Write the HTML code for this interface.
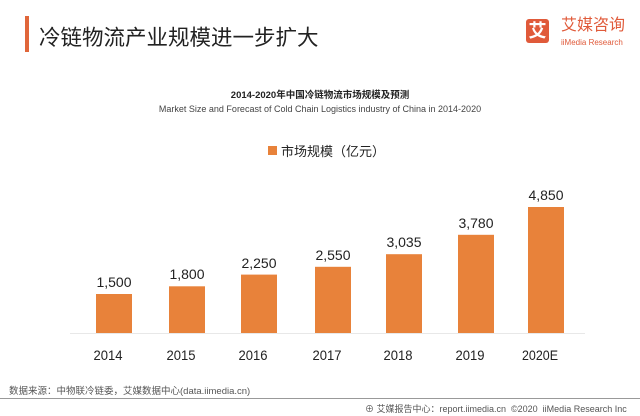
<!DOCTYPE html>
<html><head><meta charset="utf-8"><style>
body{margin:0;width:640px;height:416px;background:#fff;position:relative;overflow:hidden;font-family:"Liberation Sans","Noto Sans CJK SC",sans-serif;color:#222}
.a{position:absolute;white-space:nowrap}
</style></head><body>
<div class="a" style="left:25px;top:16px;width:4px;height:36px;background:#e0663a"></div>
<div class="a" style="left:39px;top:21px;font-size:21.5px;color:#222">冷链物流产业规模进一步扩大</div>
<div class="a" style="left:526px;top:19px;width:23px;height:24px;background:#e05a3a;border-radius:3px;color:#fff;font-size:18px;line-height:24px;text-align:center;font-weight:bold">艾</div>
<div class="a" style="left:561px;top:16px;font-size:16px;line-height:20px;color:#e05a3a">艾媒咨询</div>
<div class="a" style="left:561px;top:38px;font-size:8px;line-height:9px;color:#e05a3a">iiMedia Research</div>
<div class="a" style="left:0;width:640px;top:87px;text-align:center;font-size:9.5px;font-weight:bold">2014-2020年中国冷链物流市场规模及预测</div>
<div class="a" style="left:0;width:640px;top:104px;text-align:center;font-size:9px;color:#444">Market Size and Forecast of Cold Chain Logistics industry of China in 2014-2020</div>
<div class="a" style="left:268px;top:146px;width:9px;height:9px;background:#e8823a"></div>
<div class="a" style="left:281px;top:141px;font-size:13px">市场规模（亿元）</div>
<div class="a" style="left:70px;top:333px;width:515px;height:1px;background:#e8e8e8"></div>
<svg class="a" style="left:0;top:0" width="640" height="416">
<g fill="#e8823a">
<rect x="96" y="294" width="36" height="39"/>
<rect x="169" y="286.3" width="36" height="46.7"/>
<rect x="241" y="274.6" width="36" height="58.4"/>
<rect x="315" y="266.8" width="36" height="66.2"/>
<rect x="386" y="254.2" width="36" height="78.8"/>
<rect x="458" y="234.8" width="36" height="98.2"/>
<rect x="528" y="207" width="36" height="126"/>
</g>
<g font-family="Liberation Sans" font-size="14" text-anchor="middle" fill="#222">
<text x="114" y="287">1,500</text><text x="187" y="279">1,800</text><text x="259" y="268">2,250</text><text x="333" y="260">2,550</text><text x="404" y="247">3,035</text><text x="476" y="228">3,780</text><text x="546" y="200">4,850</text>
<text x="108" y="360" textLength="29" lengthAdjust="spacingAndGlyphs">2014</text><text x="181" y="360" textLength="29" lengthAdjust="spacingAndGlyphs">2015</text><text x="253" y="360" textLength="29" lengthAdjust="spacingAndGlyphs">2016</text><text x="327" y="360" textLength="29" lengthAdjust="spacingAndGlyphs">2017</text><text x="398" y="360" textLength="29" lengthAdjust="spacingAndGlyphs">2018</text><text x="470" y="360" textLength="29" lengthAdjust="spacingAndGlyphs">2019</text><text x="540" y="360" textLength="36" lengthAdjust="spacingAndGlyphs">2020E</text>
</g>
</svg>
<div class="a" style="left:9px;top:383px;font-size:9.5px;color:#555">数据来源：中物联冷链委，艾媒数据中心(data.iimedia.cn)</div>
<div class="a" style="left:0;top:398px;width:640px;height:1px;background:#999"></div>
<div class="a" style="left:365px;top:402px;font-size:9px;color:#555">⊕ 艾媒报告中心：report.iimedia.cn &nbsp;©2020 &nbsp;iiMedia Research Inc</div>
</body></html>
